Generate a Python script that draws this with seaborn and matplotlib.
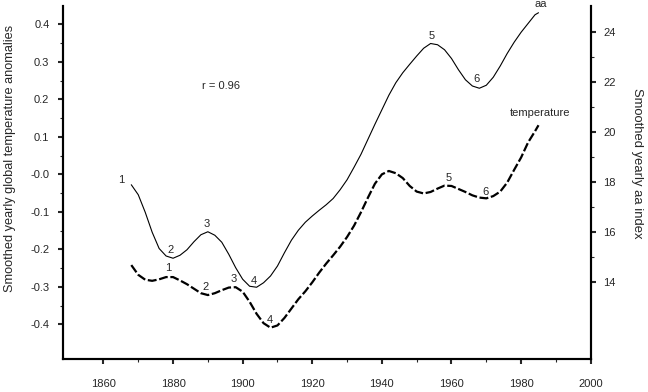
import numpy as np
import pandas as pd
import matplotlib
matplotlib.use("Agg")
import matplotlib.pyplot as plt
import seaborn as sns
from matplotlib.ticker import FixedLocator, FixedFormatter

# --- datos ---
anios_aa = [1868, 1870, 1872, 1874, 1876, 1878, 1880, 1882, 1884, 1886, 1888, 1890,
            1892, 1894, 1896, 1898, 1900, 1902, 1904, 1906, 1908, 1910, 1912, 1914,
            1916, 1918, 1920, 1922, 1924, 1926, 1928, 1930, 1932, 1934, 1936, 1938,
            1940, 1942, 1944, 1946, 1948, 1950, 1952, 1954, 1956, 1958, 1960, 1962,
            1964, 1966, 1968, 1970, 1972, 1974, 1976, 1978, 1980, 1982, 1984, 1985]
indice_aa = [17.9, 17.5, 16.8, 16.0, 15.35, 15.05, 14.96, 15.08, 15.3, 15.62, 15.9, 16.02,
             15.88, 15.6, 15.12, 14.58, 14.12, 13.84, 13.8, 13.98, 14.25, 14.65, 15.18, 15.68,
             16.08, 16.4, 16.65, 16.88, 17.1, 17.35, 17.7, 18.1, 18.6, 19.12, 19.72, 20.32,
             20.9, 21.48, 21.98, 22.38, 22.72, 23.05, 23.36, 23.55, 23.5, 23.3, 22.95, 22.5,
             22.1, 21.85, 21.76, 21.88, 22.2, 22.65, 23.15, 23.6, 24.0, 24.35, 24.7, 24.78]

anios_temp = anios_aa
anomalia_temp = [-0.242, -0.268, -0.281, -0.284, -0.280, -0.274, -0.274, -0.283, -0.293,
                 -0.305, -0.317, -0.322, -0.317, -0.309, -0.302, -0.301, -0.313, -0.340,
                 -0.372, -0.397, -0.409, -0.403, -0.383, -0.358, -0.333, -0.312, -0.288,
                 -0.262, -0.238, -0.216, -0.193, -0.167, -0.137, -0.101, -0.062, -0.025,
                 0.000, 0.009, 0.003, -0.010, -0.031, -0.046, -0.051, -0.047, -0.038,
                 -0.030, -0.031, -0.039, -0.047, -0.056, -0.062, -0.064, -0.058, -0.046,
                 -0.022, 0.012, 0.045, 0.085, 0.115, 0.131]

# etiquetas numeradas (ciclos)
etiquetas_aa = ["1", "2", "3", "4", "5", "6", "aa"]
pos_etiquetas_aa = [(1865.2, 18.07), (1879.3, 15.3), (1889.8, 16.32), (1903.1, 14.06),
                    (1954.3, 23.86), (1967.1, 22.12), (1985.7, 25.13)]
etiquetas_temp = ["1", "2", "3", "4", "5", "6", "temperature"]
pos_etiquetas_temp = [(1878.5, -0.251), (1889.3, -0.301), (1897.4, -0.280), (1907.9, -0.389),
                      (1959.1, -0.009), (1969.9, -0.046), (1985.5, 0.164)]

ticks_x = [1860, 1880, 1900, 1920, 1940, 1960, 1980, 2000]
ticks_izq = [0.4, 0.3, 0.2, 0.1, 0.0, -0.1, -0.2, -0.3, -0.4]
textos_izq = ["0.4", "0.3", "0.2", "0.1", "-0.0", "-0.1", "-0.2", "-0.3", "-0.4"]
ticks_der = [14, 16, 18, 20, 22, 24]


def graficar():
    sns.set_style("white")
    plt.rcParams['font.family'] = ['Liberation Sans', 'DejaVu Sans']
    plt.rcParams['font.size'] = 8

    fig = plt.figure(figsize=(6.48, 3.92), dpi=100)
    ax = fig.add_axes([0.0968, 0.0842, 0.8148, 0.9005])
    ax2 = ax.twinx()

    temp = pd.DataFrame({"anio": anios_temp, "valor": anomalia_temp})
    aa = pd.DataFrame({"anio": anios_aa, "valor": indice_aa})

    sns.lineplot(data=temp, x="anio", y="valor", ax=ax, color="black",
                 linewidth=1.6, linestyle=(0, (4, 1.2)))
    sns.lineplot(data=aa, x="anio", y="valor", ax=ax2, color="black", linewidth=0.8)

    ax.set_xlim(1848.3, 2000)
    ax.set_ylim(-0.4925, 0.449)
    ax2.set_ylim(10.93, 25.05)

    for a in (ax, ax2):
        a.spines["top"].set_visible(False)
        for s in ("left", "right", "bottom"):
            a.spines[s].set_linewidth(1.5)
            a.spines[s].set_color("black")

    ax.xaxis.set_major_locator(FixedLocator(ticks_x))
    ax.xaxis.set_minor_locator(FixedLocator([1870, 1890, 1910, 1930, 1950, 1970, 1990]))
    ax.yaxis.set_major_locator(FixedLocator(ticks_izq))
    ax.yaxis.set_major_formatter(FixedFormatter(textos_izq))
    ax.yaxis.set_minor_locator(FixedLocator([0.35, 0.25, 0.15, 0.05, -0.05, -0.15, -0.25, -0.35]))
    ax2.yaxis.set_major_locator(FixedLocator(ticks_der))
    ax2.yaxis.set_minor_locator(FixedLocator([15, 17, 19, 21, 23]))

    ax.tick_params(axis="x", which="major", direction="out", length=3.5, width=1.5,
                   pad=11, labelsize=8, bottom=True)
    ax.tick_params(axis="x", which="minor", direction="out", length=2, width=0.8, bottom=True)
    ax.tick_params(axis="y", which="major", direction="out", length=3.6, width=1.5,
                   pad=6, labelsize=8, left=True)
    ax.tick_params(axis="y", which="minor", direction="out", length=2, width=0.8, left=True)
    ax2.tick_params(axis="y", which="major", direction="out", length=3.6, width=1.5,
                    pad=5.5, labelsize=8, right=True)
    ax2.tick_params(axis="y", which="minor", direction="out", length=2, width=0.8, right=True)

    ax.set_xlabel("")
    ax.set_ylabel("Smoothed yearly global temperature anomalies", fontsize=9.2,
                  va="center")
    ax.yaxis.set_label_coords(-0.1, 0.569)
    ax2.set_ylabel("Smoothed yearly aa index", fontsize=9.4, rotation=270, va="center")
    ax2.yaxis.set_label_coords(1.087, 0.555)

    for txt, (x, y) in zip(etiquetas_aa, pos_etiquetas_aa):
        ax2.text(x, y, txt, ha="center", va="center", fontsize=8, clip_on=False)
    for txt, (x, y) in zip(etiquetas_temp, pos_etiquetas_temp):
        ax.text(x, y, txt, ha="center", va="center", fontsize=8, clip_on=False)

    ax.text(0.263, 0.774, "r = 0.96", transform=ax.transAxes, ha="left", va="center", fontsize=8)

    fig.savefig("out.png", dpi=100)


if __name__ == "__main__":
    graficar()
